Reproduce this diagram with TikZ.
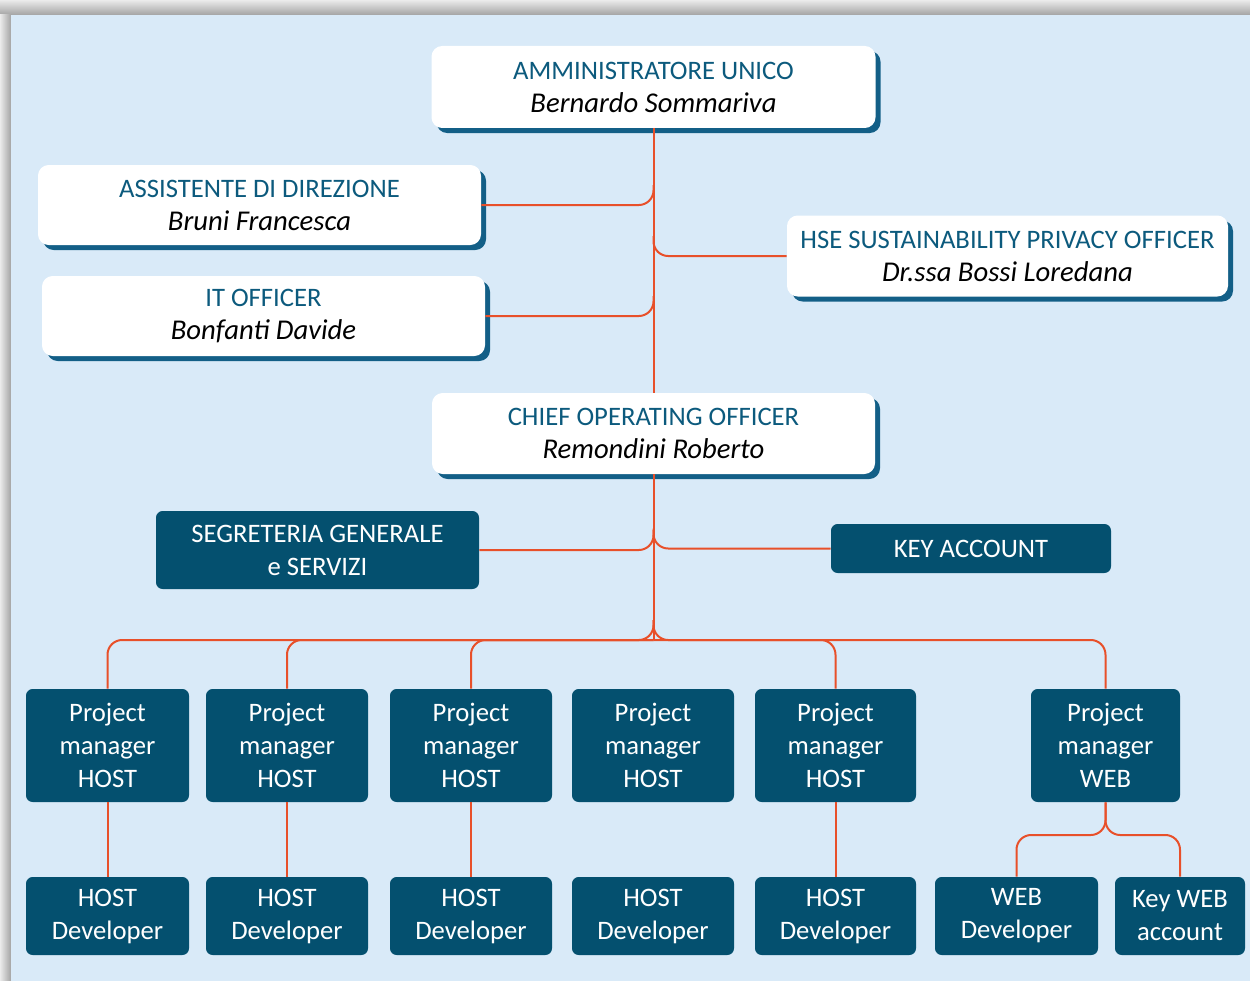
\documentclass[tikz,border=0pt]{standalone}
\usepackage{fontspec}
\setmainfont{Carlito}
\usetikzlibrary{shadows,calc}
\definecolor{bgc}{HTML}{D9EAF8}
\definecolor{darkc}{HTML}{04506F}
\definecolor{shadc}{HTML}{135F87}
\definecolor{titlec}{HTML}{0C5A7D}
\definecolor{linec}{HTML}{E8502A}
\newcommand{\pname}[1]{{\fontsize{21.5}{24.75}\selectfont\itshape #1}}
\tikzset{
  whitebox/.style={draw=none, fill=white, rounded corners=8pt, inner sep=0pt, align=center,
    font=\fontsize{20}{24.75}\selectfont,
    drop shadow={shadow xshift=3.75pt, shadow yshift=-3.75pt, fill=shadc, opacity=1}},
  darkbox/.style={draw=none, fill=darkc, rounded corners=5pt, inner sep=0pt, align=center,
    text=white, font=\fontsize{20}{24.75}\selectfont},
  conn/.style={draw=linec, line width=1.5pt, rounded corners=11pt},
}
\begin{document}
\begin{tikzpicture}[x=0.75pt, y=-0.75pt]
\useasboundingbox (0,0) rectangle (1250,981);
% frame
\fill[white!92!black] (0,0) rectangle (1250,981);
\shade[top color=white!92!black, bottom color=white!64!black] (0,0) rectangle (1250,15);
\shade[left color=white!92!black, right color=white!64!black] (0,15) rectangle (11,981);
\fill[bgc] (11,15) rectangle (1250,981);

% white boxes
\node[whitebox, minimum width=333pt, minimum height=61.5pt] (amm) at (653.5,87)
  {{\color{titlec}AMMINISTRATORE UNICO}\\\pname{Bernardo Sommariva}};
\node[whitebox, minimum width=332.25pt, minimum height=60pt] (ass) at (259.5,205)
  {{\color{titlec}ASSISTENTE DI DIREZIONE}\\\pname{Bruni Francesca}};
\node[whitebox, minimum width=332.25pt, minimum height=60pt] (it) at (263.5,316)
  {{\color{titlec}IT OFFICER}\\\pname{Bonfanti Davide}};
\node[whitebox, minimum width=330.75pt, minimum height=60.75pt] (hse) at (1007.5,256)
  {{\color{titlec}HSE SUSTAINABILITY PRIVACY OFFICER}\\\pname{Dr.ssa Bossi Loredana}};
\node[whitebox, minimum width=332.25pt, minimum height=60.75pt] (coo) at (653.5,433.5)
  {{\color{titlec}CHIEF OPERATING OFFICER}\\\pname{Remondini Roberto}};

% dark boxes
\node[darkbox, minimum width=242.25pt, minimum height=58.5pt] (seg) at (317.5,550)
  {SEGRETERIA GENERALE\\e SERVIZI};
\node[darkbox, minimum width=210pt, minimum height=36.75pt] (key) at (971,548.5)
  {KEY ACCOUNT};

\foreach \n/\x/\w in {1/107.5/122.25, 2/287/121.5, 3/471/121.5, 4/653/121.5, 5/835.5/120.75}{
  \node[darkbox, minimum width=\w pt, minimum height=84.75pt] (pm\n) at (\x,745.5)
    {Project\\manager\\HOST};
  \node[darkbox, minimum width=\w pt, minimum height=58.5pt] (d\n) at (\x,916)
    {HOST\\Developer};
}
\node[darkbox, minimum width=111.75pt, minimum height=84.75pt] (pmw) at (1105.5,745.5)
  {Project\\manager\\WEB};
\node[darkbox, minimum width=122.25pt, minimum height=58.5pt] (wd) at (1016.5,916)
  {WEB\\Developer};
\node[darkbox, minimum width=97.5pt, minimum height=58.5pt] (kw) at (1180,916)
  {Key WEB\\account};

% connectors
\draw[conn] (amm.south) -- (coo.north);
\draw[conn] (ass.east) -- (ass.east -| amm.south) -- ++(0,-20);
\draw[conn] (it.east) -- (it.east -| amm.south) -- ++(0,-20);
\draw[conn] (hse.west) -- (hse.west -| amm.south) -- ++(0,-20);

\coordinate (bar) at (653.5,640);
\coordinate (barup) at (653.5,620);
\draw[conn] (coo.south) -- (bar);
\draw[conn] (seg.east) -- (seg.east -| coo.south) -- ++(0,-20);
\draw[conn] (key.west) -- (key.west -| coo.south) -- ++(0,-20);
\draw[conn] (barup) -- (bar) -| (pm1.north);
\draw[conn] (barup) -- (bar) -| (pmw.north);
\draw[conn] (bar) -| (pm2.north);
\draw[conn] (bar) -| (pm3.north);
\draw[conn] (bar) -| (pm5.north);
\foreach \n in {1,2,3,5}{ \draw[conn] (pm\n.south) -- (d\n.north); }
\coordinate (wb) at (1105.5,835);
\draw[conn] (pmw.south) -- (wb) -| (wd.north);
\draw[conn] (pmw.south) -- (wb) -| (kw.north);
\end{tikzpicture}
\end{document}
